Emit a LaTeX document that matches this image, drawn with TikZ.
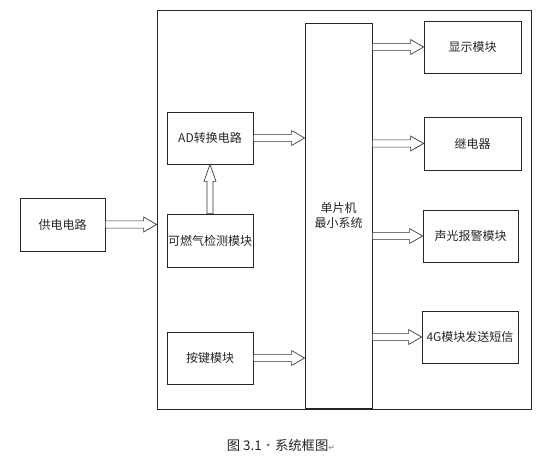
\documentclass[tikz,border=0pt]{standalone}
\usepackage{fontspec}
\setmainfont{Noto Sans CJK SC}
\newfontfamily\symfont{DejaVu Sans}
\usetikzlibrary{calc}
\tikzset{
  box/.style={draw=black!85, line width=0.6pt, inner sep=0pt, font=\fontsize{9}{11}\selectfont, text=black!85},
  barrow/.style={draw=black!80, line width=0.5pt, fill=white, line join=miter},
}
\newcommand\rarrow[2]{\draw[barrow] let \p1=#1, \p2=#2 in
  (\x1,{\y1+2.7pt}) -- ({\x2-9.75pt},{\y1+2.7pt}) -- ({\x2-9.75pt},{\y1+5.6pt}) -- (\x2,\y1)
  -- ({\x2-9.75pt},{\y1-5.6pt}) -- ({\x2-9.75pt},{\y1-2.7pt}) -- (\x1,{\y1-2.7pt}) -- cycle;}
\newcommand\uarrow[2]{\draw[barrow] let \p1=#1, \p2=#2 in
  ({\x1-2.2pt},\y1) -- ({\x1-2.2pt},{\y2-12.75pt}) -- ({\x1-4.5pt},{\y2-12.75pt}) -- (\x1,\y2)
  -- ({\x1+4.5pt},{\y2-12.75pt}) -- ({\x1+2.2pt},{\y2-12.75pt}) -- ({\x1+2.2pt},\y1) -- cycle;}
\begin{document}
\begin{tikzpicture}[x=0.75pt,y=-0.75pt]
\useasboundingbox[fill=white] (0,0) rectangle (545,462);
\node[box, minimum width=280.5pt, minimum height=299.25pt] (outer) at (344,209.5) {};
\node[box, minimum width=63.75pt, minimum height=39.75pt] (power) at (62.5,224.5) {供电电路};
\node[box, minimum width=64.5pt, minimum height=39pt] (ad) at (210,138) {AD转换电路};
\node[box, minimum width=64.5pt, minimum height=39.75pt] (gas) at (210,240.5) {可燃气检测模块};
\node[box, minimum width=64.5pt, minimum height=39pt] (key) at (210,358) {按键模块};
\node[box, minimum width=50.25pt, minimum height=288.75pt, align=center] (mcu) at (338.5,215.5) {单片机\\最小系统};
\node[box, minimum width=72.75pt, minimum height=39pt] (disp) at (472.5,47) {显示模块};
\node[box, minimum width=72.75pt, minimum height=39.75pt] (relay) at (472.5,143.5) {继电器};
\node[box, minimum width=71.25pt, minimum height=39pt] (alarm) at (470.5,236) {声光报警模块};
\node[box, minimum width=72pt, minimum height=39pt] (g4) at (470,337) {4G模块发送短信};
\rarrow{(power.east)}{(outer.west |- power.east)}
\rarrow{(ad.east)}{(mcu.west |- ad.east)}
\rarrow{(key.east)}{(mcu.west |- key.east)}
\uarrow{(gas.north)}{(ad.south)}
\rarrow{(mcu.east |- disp.west)}{(disp.west)}
\rarrow{(mcu.east |- relay.west)}{(relay.west)}
\rarrow{(mcu.east |- alarm.west)}{(alarm.west)}
\rarrow{(mcu.east |- g4.west)}{(g4.west)}
\node[font=\fontsize{10}{12}\selectfont, text=black!85] (cap) at (281,445) {图 3.1{\color{gray}·}系统框图{\symfont\color{gray}\fontsize{6}{7}\selectfont ↵}};
\end{tikzpicture}
\end{document}
